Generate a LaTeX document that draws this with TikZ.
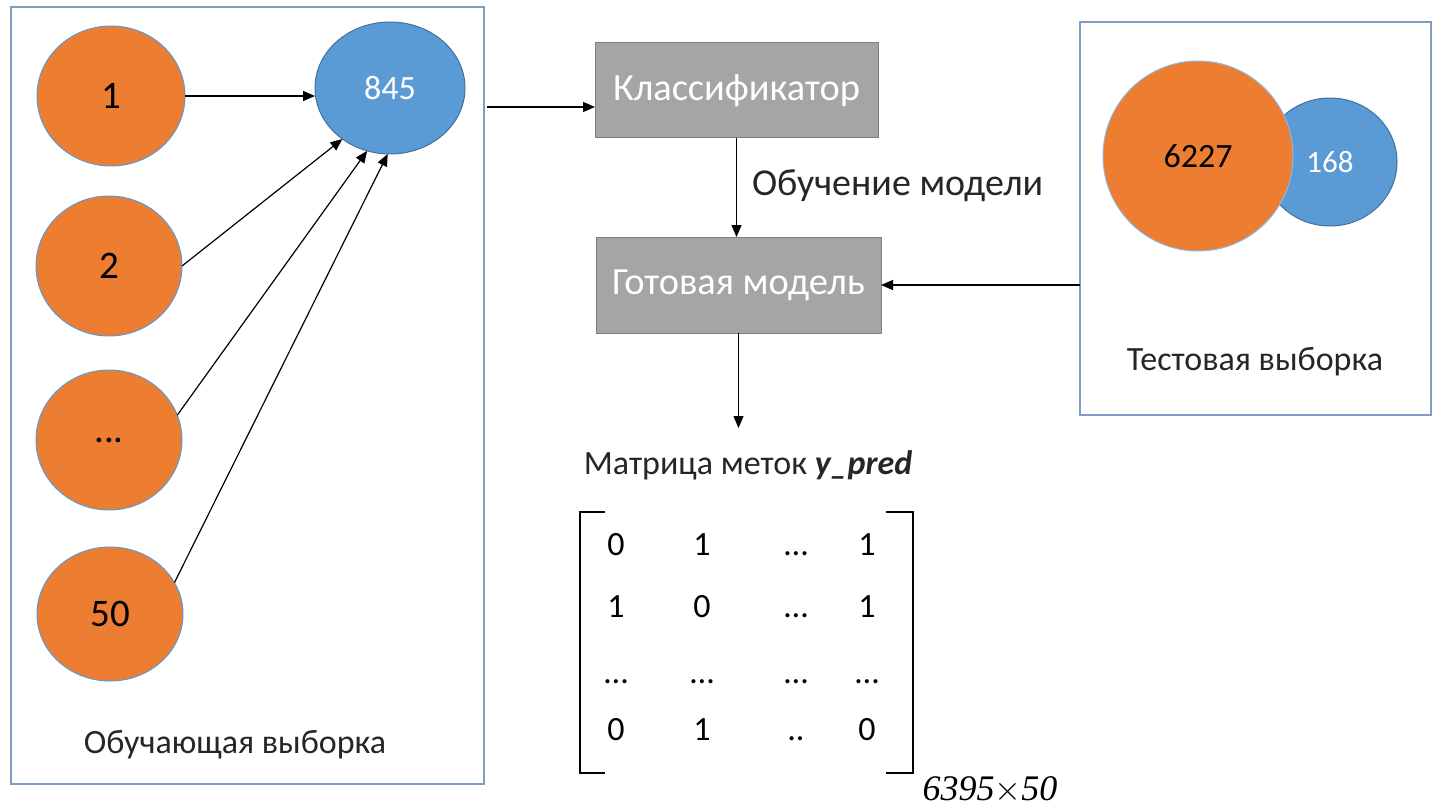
\documentclass[tikz,border=0pt]{standalone}
\usepackage{fontspec}
\setmainfont{Carlito}
\newfontfamily\tnr{Liberation Serif}
\usetikzlibrary{shapes.geometric,arrows.meta,calc}
\definecolor{orng}{HTML}{ED7D31}
\definecolor{blu}{HTML}{5B9BD5}
\definecolor{bluedge}{HTML}{41719C}
\definecolor{gry}{HTML}{A5A5A5}
\definecolor{gryedge}{HTML}{7F7F7F}
\definecolor{frame}{HTML}{7F9DC4}
\tikzset{
  x=0.5pt, y=-0.5pt,
  every node/.style={inner sep=0pt, outer sep=0pt},
  oell/.style={ellipse, fill=orng, draw=blu, line width=0.5pt, font=\fontsize{19.5}{22}\selectfont},
  bell/.style={ellipse, fill=blu, draw=bluedge, line width=0.5pt, text=white, font=\fontsize{17}{20}\selectfont},
  gbox/.style={rectangle, fill=gry, draw=gryedge, line width=0.5pt, text=white, font=\fontsize{19.2}{22}\selectfont},
  frm/.style={rectangle, draw=frame, line width=0.8pt},
  lbl/.style={font=\fontsize{17}{20}\selectfont, text=black!85},
  arr/.style={draw=black, line width=0.6pt, -{Triangle[length=6pt,width=5pt]}},
  ent/.style={font=\fontsize{17}{20}\selectfont, text height=11pt, text depth=0pt},
}
\begin{document}
\begin{tikzpicture}
\useasboundingbox (0,0) rectangle (1435,808);
% frames
\node[frm, minimum width=236.5pt, minimum height=388.5pt] (lbox) at (247.5,395.5) {};
\node[frm, minimum width=175.5pt, minimum height=196.5pt] (rbox) at (1255.5,218.5) {};
% left ellipses
\node[oell, minimum width=74pt, minimum height=70pt] (e1) at (111,96) {1};
\node[oell, minimum width=73pt, minimum height=70pt] (e2) at (109,266) {2};
\node[oell, minimum width=73pt, minimum height=70pt] (e3) at (109,440) {...};
\node[oell, minimum width=73pt, minimum height=67pt] (e4) at (110,614) {50};
\node[bell, minimum width=75pt, minimum height=66pt] (b845) at (390,88) {845};
\node[lbl] (ltxt) at (235,745) {Обучающая выборка};
% right circles
\node[bell, minimum width=67pt, minimum height=64pt, font=\fontsize{15.5}{18}\selectfont] (b168) at (1330,162) {168};
\node[oell, minimum width=95pt, minimum height=95pt, draw=blu!70, font=\fontsize{17}{20}\selectfont] (o6227) at (1198,156) {6227};
\node[lbl] (rtxt) at (1255,362) {Тестовая выборка};
% gray boxes
\node[gbox, minimum width=141.5pt, minimum height=47.5pt] (cls) at (736.5,90.5) {Классификатор};
\node[gbox, minimum width=142.5pt, minimum height=48pt] (mdl) at (738.5,285) {Готовая модель};
\node[lbl, anchor=west, font=\fontsize{19}{22}\selectfont] (train) at (752,186) {Обучение модели};
% matrix label
\node[lbl] (mlab) at (748,465) {Матрица меток \textbf{\textit{y\_pred}}};
% matrix entries
\foreach \r/\y/\a/\b/\c/\d in {1/544/0/1/{…}/1, 2/606/1/0/{…}/1, 3/672/{…}/{…}/{…}/{…}, 4/729/0/1/{..}/0}{
  \node[ent] (m\r a) at (616,\y) {\a};
  \node[ent] (m\r b) at (702,\y) {\b};
  \node[ent] (m\r c) at (796,\y) {\c};
  \node[ent] (m\r d) at (867,\y) {\d};
}
\draw[line width=0.8pt] (605,512) -- (580,512) -- (580,773) -- (605,773);
\draw[line width=0.8pt] (886,512) -- (913,512) -- (913,773) -- (886,773);
\node[font=\tnr\itshape\fontsize{18}{20}\selectfont] (dim) at (990,790) {6395$\times$50};
% arrows
\draw[arr] (e1.east) -- (b845.west |- e1.east);
\draw[arr] (e2.east) -- (b845.-133);
\draw[arr] (e3.20) -- (b845.-110);
\draw[arr] (e4.26) -- (b845.-92);
\coordinate (la) at (487,107);
\draw[arr] (la) -- (cls.west |- la);
\draw[arr] (cls.south) -- (mdl.north -| cls.south);
\draw[arr] (rbox.west |- mdl.east) -- (mdl.east);
\coordinate (mtop) at ($(mdl.south)+(0,95)$);
\draw[arr] (mdl.south) -- (mtop);
\end{tikzpicture}
\end{document}
